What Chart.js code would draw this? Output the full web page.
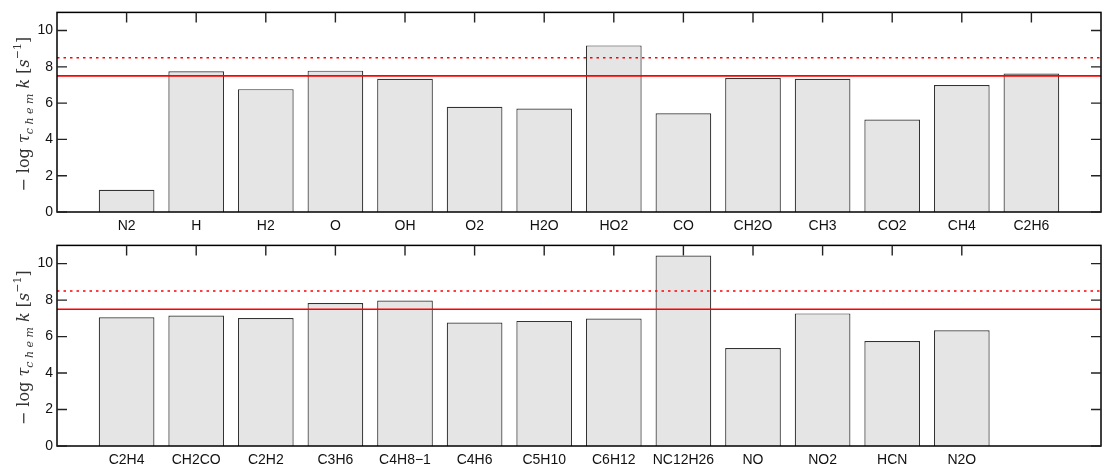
<!DOCTYPE html>
<html>
<head>
<meta charset="utf-8">
<script src="https://cdn.jsdelivr.net/npm/chart.js@4.4.0/dist/chart.umd.min.js"></script>
<style>
  html, body { margin: 0; padding: 0; background: #fff; }
  .panel { position: absolute; left: 0; width: 1103px; }
  #topPanel { top: 0; height: 233px; }
  #bottomPanel { top: 233px; height: 234px; }
</style>
</head>
<body>
<div class="panel" id="topPanel"><canvas id="topChart"></canvas></div>
<div class="panel" id="bottomPanel"><canvas id="bottomChart"></canvas></div>
<script>
// species and values
const topSpecies = ["N2", "H", "H2", "O", "OH", "O2", "H2O", "HO2", "CO", "CH2O", "CH3", "CO2", "CH4", "C2H6"];
const topValues = [1.22, 7.75, 6.77, 7.79, 7.34, 5.80, 5.70, 9.18, 5.44, 7.38, 7.34, 5.10, 7.00, 7.63];

const bottomSpecies = ["C2H4", "CH2CO", "C2H2", "C3H6", "C4H8\u22121", "C4H6", "C5H10", "C6H12", "NC12H26", "NO", "NO2", "HCN", "N2O"];
const bottomValues = [7.06, 7.15, 7.02, 7.84, 7.98, 6.77, 6.86, 6.99, 10.45, 5.37, 7.27, 5.76, 6.35];

const yTicks = [0, 2, 4, 6, 8, 10];
const yMax = 11;
const xMax = 15;
const solidLevel = 7.5;
const dottedLevel = 8.5;

const tickFont = { family: "'Liberation Sans', Arial, sans-serif", size: 14 };
const serif = "'DejaVu Serif', 'Liberation Serif', serif";

// frame, inward ticks and the rotated math label
const framePlugin = {
  id: "frame",
  afterDatasetsDraw(chart) {
    const { ctx, chartArea: a, scales } = chart;
    ctx.save();
    ctx.strokeStyle = "#000";
    ctx.lineWidth = 1.5;
    ctx.strokeRect(a.left, a.top, a.right - a.left, a.bottom - a.top);

    ctx.lineWidth = 1.4;
    ctx.strokeStyle = "#222";
    ctx.beginPath();
    yTicks.forEach(v => {
      const y = scales.y.getPixelForValue(v);
      ctx.moveTo(a.left, y); ctx.lineTo(a.left + 10, y);
      ctx.moveTo(a.right, y); ctx.lineTo(a.right - 10, y);
    });
    const n = chart.data.datasets[2].data.length;
    for (let i = 1; i <= n; i++) {
      const x = scales.x.getPixelForValue(i);
      ctx.moveTo(x, a.top); ctx.lineTo(x, a.top + 10);
    }
    ctx.stroke();

    // y label: − log τ_chem k [s^−1]
    const cy = (a.top + a.bottom) / 2 + 2;
    const parts = [
      { t: "\u2212 log ", f: "16px " + serif, dy: 0 },
      { t: "\u03c4", f: "italic 16px " + serif, dy: 0 },
      { t: "c h e m", f: "italic 11px " + serif, dy: 4 },
      { t: " k", f: "italic 16px " + serif, dy: 0 },
      { t: " [", f: "16px " + serif, dy: 0 },
      { t: "s", f: "italic 16px " + serif, dy: 0 },
      { t: "\u22121", f: "11px " + serif, dy: -8 },
      { t: "]", f: "16px " + serif, dy: 0 }
    ];
    let total = 0;
    parts.forEach(p => { ctx.font = p.f; p.w = ctx.measureText(p.t).width; total += p.w; });
    ctx.translate(29, cy);
    ctx.rotate(-Math.PI / 2);
    ctx.fillStyle = "#333";
    ctx.textBaseline = "alphabetic";
    let x = -total / 2;
    parts.forEach(p => {
      ctx.font = p.f;
      ctx.fillText(p.t, x, p.dy);
      x += p.w;
    });
    ctx.restore();
  }
};

function makeChart(id, species, values, padTop) {
  const bars = species.map((s, i) => ({ x: i + 1, y: values[i] }));
  const ctx = document.getElementById(id);
  return new Chart(ctx, {
    type: "bar",
    data: {
      datasets: [
        {
          type: "line",
          data: [{ x: 0, y: solidLevel }, { x: xMax, y: solidLevel }],
          borderColor: "#ff0000",
          borderWidth: 1.6,
          pointRadius: 0,
          order: 0
        },
        {
          type: "line",
          data: [{ x: 0, y: dottedLevel }, { x: xMax, y: dottedLevel }],
          borderColor: "#ff0000",
          borderWidth: 1.6,
          borderDash: [2.5, 4],
          pointRadius: 0,
          order: 0
        },
        {
          data: bars,
          backgroundColor: "#e5e5e5",
          borderColor: "#333",
          borderWidth: 1.2,
          barPercentage: 0.8,
          categoryPercentage: 1.0,
          order: 1
        }
      ]
    },
    options: {
      responsive: true,
      maintainAspectRatio: false,
      animation: false,
      layout: { padding: { top: padTop, right: 2, left: 0, bottom: 0 } },
      scales: {
        x: {
          type: "linear",
          min: 0,
          max: xMax,
          offset: false,
          grid: { display: false, drawTicks: false },
          border: { display: false },
          afterBuildTicks: s => { s.ticks = species.map((_, i) => ({ value: i + 1 })); },
          afterFit: s => { s.height = 21; },
          ticks: {
            autoSkip: false,
            maxRotation: 0,
            padding: 6,
            color: "#111",
            font: tickFont,
            callback: v => species[v - 1] || ""
          }
        },
        y: {
          min: 0,
          max: yMax,
          grid: { display: false, drawTicks: false },
          border: { display: false },
          afterBuildTicks: s => { s.ticks = yTicks.map(v => ({ value: v })); },
          afterFit: s => { s.width = 57; },
          ticks: { padding: 4, color: "#111", font: tickFont }
        }
      },
      plugins: {
        legend: { display: false },
        tooltip: { enabled: false }
      }
    },
    plugins: [framePlugin]
  });
}

makeChart("topChart", topSpecies, topValues, 6);
makeChart("bottomChart", bottomSpecies, bottomValues, 7);
</script>
</body>
</html>
